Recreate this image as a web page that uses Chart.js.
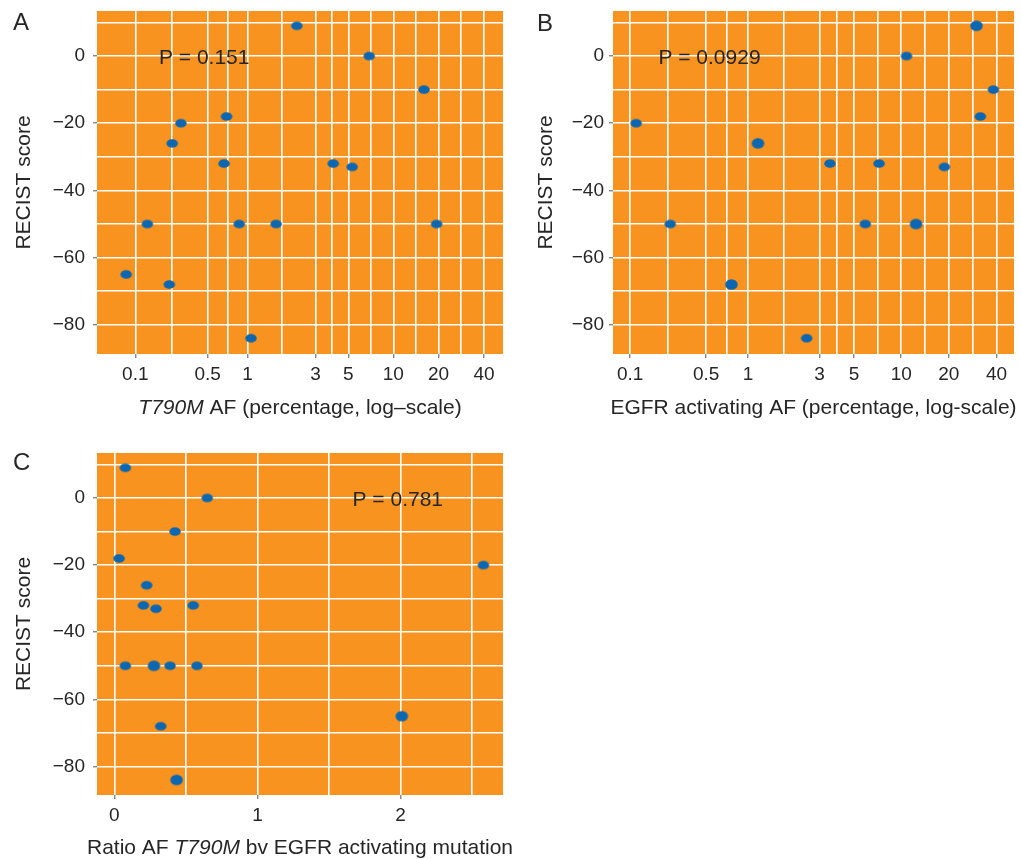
<!DOCTYPE html>
<html>
<head>
<meta charset="utf-8">
<script src="https://cdn.jsdelivr.net/npm/chart.js@4/dist/chart.umd.min.js"></script>
<style>
  html, body { margin: 0; padding: 0; background: #ffffff; width: 1021px; height: 859px; overflow: hidden; }
  canvas { position: absolute; }
</style>
</head>
<body>
<canvas id="panelA" width="510" height="430" style="left:0px;top:0px"></canvas>
<canvas id="panelB" width="511" height="430" style="left:510px;top:0px"></canvas>
<canvas id="panelC" width="520" height="429" style="left:0px;top:430px"></canvas>
<script>
// RECIST score against allele fractions (AF) of T790M and of the EGFR activating mutation

// Panel A: T790M AF (%) vs RECIST score
const recistA = [9, 0, -10, -20, -18, -26, -32, -32, -33, -50, -50, -50, -50, -65, -68, -84];
const t790mAF = [2.23, 6.9, 16, 0.3, 0.7, 0.25, 0.67, 3.95, 5.3, 0.14, 0.87, 1.6, 19.4, 0.074, 0.235, 1.06];

// Panel B: EGFR activating AF (%) vs RECIST score
const recistB = [9, 0, -10, -20, -18, -26, -32, -32, -33, -50, -50, -50, -68, -84];
const egfrAF = [29.9, 10.8, 38.2, 0.118, 31.6, 1.17, 3.5, 7.22, 18.75, 0.257, 5.9, 12.4, 0.765, 2.47];

// Panel C: ratio of T790M AF to EGFR activating AF vs RECIST score
const recistC = [9, 0, -10, -18, -20, -26, -32, -32, -33, -50, -50, -50, -50, -65, -68, -84];
const afRatio = [0.077, 0.649, 0.424, 0.033, 2.578, 0.226, 0.203, 0.551, 0.291, 0.077, 0.277, 0.389, 0.577, 2.008, 0.324, 0.435];

// Tick labels
const logTicks = [0.1, 0.5, 1, 3, 5, 10, 20, 40];
const ratioTicks = [0, 1, 2];
const recistTicks = [-80, -60, -40, -20, 0];

// Correlation p-values
const pValues = ['P = 0.151', 'P = 0.0929', 'P = 0.781'];

// ---------------------------------------------------------------------------
const FONT = "'Liberation Sans', Arial, Helvetica, sans-serif";
const TEXT = '#262626';
const PANEL_BG = '#f7931e';
const DOT = '#0b67b2';
const LOG_SHIFT = 0.1;                       // axis uses log10(AF + 0.1)
const toLog = v => Math.log10(v + LOG_SHIFT);
const minusFmt = v => (v < 0 ? '\u2212' + Math.abs(v) : String(v));

// major ticks plus minor grid positions halfway between them
function logAxisTicks() {
  const out = [];
  logTicks.forEach((v, i) => {
    out.push({ value: toLog(v), lab: String(v), minor: false });
    if (i < logTicks.length - 1) {
      out.push({ value: (toLog(v) + toLog(logTicks[i + 1])) / 2, lab: '', minor: true });
    }
  });
  return out;
}
function ratioAxisTicks() {
  const out = [];
  ratioTicks.forEach(v => {
    out.push({ value: v, lab: String(v), minor: false });
    out.push({ value: v + 0.5, lab: '', minor: true });
  });
  return out;
}
function recistAxisTicks() {
  const out = [];
  recistTicks.forEach(v => {
    out.push({ value: v, lab: minusFmt(v), minor: false });
    out.push({ value: v + 10, lab: '', minor: true });
  });
  return out.sort((a, b) => a.value - b.value);
}

function ellipseDot(w, h) {
  const c = document.createElement('canvas');
  c.width = Math.ceil(w) + 2;
  c.height = Math.ceil(h) + 2;
  const g = c.getContext('2d');
  g.fillStyle = DOT;
  g.beginPath();
  g.ellipse(c.width / 2, c.height / 2, w / 2, h / 2, 0, 0, Math.PI * 2);
  g.fill();
  return c;
}
const dotSmall = ellipseDot(11.5, 8.5);
const dotLarge = ellipseDot(12.5, 10.5);

// orange panel, letter, p-value and the x-axis title (mixed italic)
const panelDecor = {
  id: 'panelDecor',
  beforeDraw(chart) {
    const a = chart.chartArea, ctx = chart.ctx;
    ctx.save();
    ctx.fillStyle = PANEL_BG;
    ctx.fillRect(a.left, a.top, a.right - a.left, a.bottom - a.top);
    ctx.restore();
  },
  afterDraw(chart, args, o) {
    const ctx = chart.ctx, a = chart.chartArea;
    ctx.save();
    ctx.fillStyle = TEXT;
    // panel letter
    ctx.font = '24px ' + FONT;
    ctx.textAlign = 'left';
    ctx.textBaseline = 'alphabetic';
    ctx.fillText(o.letter, o.letterX, o.letterY);
    // p-value annotation at data coordinates
    ctx.font = '21px ' + FONT;
    ctx.textAlign = 'center';
    ctx.textBaseline = 'middle';
    const px = chart.scales.x.getPixelForValue(o.pAt[0]);
    const py = chart.scales.y.getPixelForValue(o.pAt[1]);
    ctx.fillText(o.pText, px, py + 2);
    // x-axis title
    ctx.textAlign = 'left';
    const parts = o.title.map(p => {
      const f = (p.italic ? 'italic ' : '') + o.titleSize + 'px ' + FONT;
      ctx.font = f;
      return { text: p.text, font: f, w: ctx.measureText(p.text).width };
    });
    const total = parts.reduce((s, p) => s + p.w, 0);
    let x = (a.left + a.right) / 2 - total / 2;
    parts.forEach(p => {
      ctx.font = p.font;
      ctx.fillText(p.text, x, o.titleY);
      x += p.w;
    });
    ctx.restore();
  }
};

function gridOpts() {
  return {
    color: '#ffffff',
    lineWidth: 1.6,
    drawTicks: true,
    tickLength: 4,
    tickWidth: 1,
    tickColor: ctx => (ctx.tick && ctx.tick.minor ? 'rgba(0,0,0,0)' : '#555555')
  };
}

// axis boxes are given fixed sizes so the plot areas sit at set positions
function fixBox(s, prop, size) {
  s[prop] = size;
  s.paddingTop = 0;
  s.paddingBottom = 0;
  s.paddingLeft = 0;
  s.paddingRight = 0;
}

function makePanel(id, p) {
  return new Chart(document.getElementById(id), {
    type: 'scatter',
    data: {
      datasets: [{
        data: p.points,
        pointStyle: ctx => (p.large.includes(ctx.dataIndex) ? dotLarge : dotSmall),
        pointRadius: 6,
        showLine: false
      }]
    },
    plugins: [panelDecor],
    options: {
      responsive: false,
      animation: false,
      events: [],
      layout: { padding: p.padding },
      plugins: {
        legend: { display: false },
        tooltip: { enabled: false },
        panelDecor: p.decor
      },
      scales: {
        x: {
          type: 'linear',
          min: p.xMin,
          max: p.xMax,
          afterBuildTicks: s => { s.ticks = p.xTicks(); },
          afterFit: s => fixBox(s, 'height', p.xAxisHeight),
          ticks: {
            callback: (v, i, ts) => ts[i].lab,
            autoSkip: false,
            maxRotation: 0,
            padding: p.xTickPad,
            color: TEXT,
            font: { family: FONT, size: 19, lineHeight: 1.2 }
          },
          grid: gridOpts(),
          border: { display: false },
          title: { display: false }
        },
        y: {
          type: 'linear',
          min: p.yMin,
          max: p.yMax,
          afterBuildTicks: s => { s.ticks = recistAxisTicks(); },
          afterFit: s => fixBox(s, 'width', p.yAxisWidth),
          ticks: {
            callback: (v, i, ts) => ts[i].lab,
            autoSkip: false,
            padding: p.yTickPad,
            color: TEXT,
            font: { family: FONT, size: 19, lineHeight: 1.2 }
          },
          grid: gridOpts(),
          border: { display: false },
          title: {
            display: true,
            text: 'RECIST score',
            color: TEXT,
            font: { family: FONT, size: 21, lineHeight: 1.2 },
            padding: { top: p.yTitlePad, bottom: 0 }
          }
        }
      }
    }
  });
}

makePanel('panelA', {
  points: t790mAF.map((v, i) => ({ x: toLog(v), y: recistA[i] })),
  large: [],
  padding: { left: 0, top: 11, right: 7, bottom: 0 },
  xMin: -0.952, xMax: 1.7285, yMin: -88.7, yMax: 13.4,
  xTicks: logAxisTicks,
  xAxisHeight: 76, yAxisWidth: 97,
  xTickPad: 5.5, yTickPad: 8, yTitlePad: 12,
  decor: {
    letter: 'A', letterX: 13, letterY: 30,
    pText: pValues[0], pAt: [toLog(0.47), 0],
    title: [{ text: 'T790M', italic: true }, { text: ' AF (percentage, log\u2013scale)', italic: false }],
    titleSize: 21, titleY: 408
  }
});

makePanel('panelB', {
  points: egfrAF.map((v, i) => ({ x: toLog(v), y: recistB[i] })),
  large: [0, 5, 11, 12],
  padding: { left: 0, top: 11, right: 5, bottom: 0 },
  xMin: -0.807, xMax: 1.7125, yMin: -88.7, yMax: 13.4,
  xTicks: logAxisTicks,
  xAxisHeight: 76, yAxisWidth: 103,
  xTickPad: 5.5, yTickPad: 5, yTitlePad: 24,
  decor: {
    letter: 'B', letterX: 27, letterY: 31,
    pText: pValues[1], pAt: [toLog(0.53), 0],
    title: [{ text: 'EGFR activating AF (percentage, log-scale)', italic: false }],
    titleSize: 21, titleY: 408
  }
});

makePanel('panelC', {
  points: afRatio.map((v, i) => ({ x: v, y: recistC[i] })),
  large: [10, 13, 15],
  padding: { left: 0, top: 23, right: 17, bottom: 0 },
  xMin: -0.121, xMax: 2.715, yMin: -88.5, yMax: 13.4,
  xTicks: ratioAxisTicks,
  xAxisHeight: 64, yAxisWidth: 97,
  xTickPad: 5, yTickPad: 8, yTitlePad: 12,
  decor: {
    letter: 'C', letterX: 13, letterY: 40,
    pText: pValues[2], pAt: [1.98, 0],
    title: [{ text: 'Ratio AF ', italic: false }, { text: 'T790M', italic: true }, { text: ' bv EGFR activating mutation', italic: false }],
    titleSize: 21, titleY: 418
  }
});
</script>
</body>
</html>
